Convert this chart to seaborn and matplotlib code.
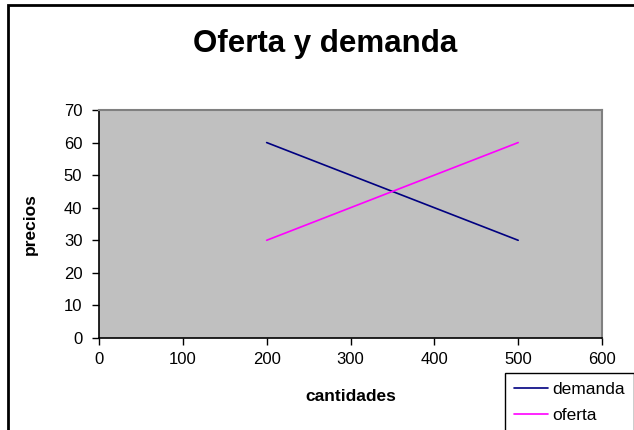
import pandas as pd
import seaborn as sns
import matplotlib.pyplot as plt
from matplotlib.patches import Rectangle

# Datos
cantidades = [200, 300, 400, 500]
demanda = [60, 50, 40, 30]
oferta = [30, 40, 50, 60]

df = pd.DataFrame({
    "cantidades": cantidades * 2,
    "precios": demanda + oferta,
    "serie": ["demanda"] * len(cantidades) + ["oferta"] * len(cantidades),
})

sns.set_style("white", {"axes.facecolor": "#C0C0C0", "text.color": "black"})
plt.rcParams["font.family"] = ["Liberation Sans", "DejaVu Sans"]

fig = plt.figure(figsize=(6.34, 4.30), dpi=100)
ax = fig.add_axes([99 / 634, 92 / 430, 503 / 634, 228 / 430])

sns.lineplot(data=df, x="cantidades", y="precios", hue="serie",
             palette={"demanda": "#000080", "oferta": "#FF00FF"},
             linewidth=1.2, ax=ax, legend=True)

ax.set_xlim(0, 600)
ax.set_ylim(0, 70)
ax.set_xticks(range(0, 601, 100))
ax.set_yticks(range(0, 71, 10))
ax.tick_params(bottom=True, left=True, direction="out", length=5, width=1,
               color="black", labelsize=12, labelcolor="black")
ax.tick_params(axis="y", pad=7)
ax.tick_params(axis="x", pad=5)
ax.grid(False)

for s in ["left", "bottom"]:
    ax.spines[s].set_color("black")
    ax.spines[s].set_linewidth(1.2)
for s in ["top", "right"]:
    ax.spines[s].set_color("#808080")
    ax.spines[s].set_linewidth(1.5)

ax.set_xlabel("cantidades", fontsize=12.5, fontweight="bold", color="black")
ax.set_ylabel("precios", fontsize=12.5, fontweight="bold", color="black")
ax.xaxis.set_label_coords(0.5, -0.225)
ax.yaxis.set_label_coords(-0.122, 0.5)

fig.suptitle("Oferta y demanda", x=325 / 634, y=1 - 44 / 430, va="center",
             fontsize=22.5, fontweight="bold", color="black")

# Leyenda
handles, labels = ax.get_legend_handles_labels()
ax.get_legend().remove()
leg = fig.legend(handles, labels, loc="upper left",
                 bbox_to_anchor=(505 / 634, 1 - 373 / 430),
                 frameon=True, fancybox=False, edgecolor="black",
                 facecolor="white", framealpha=1, fontsize=12.5,
                 handlelength=2.0, handletextpad=0.25, borderpad=0.5,
                 labelspacing=0.65, borderaxespad=0)
leg.get_frame().set_linewidth(1.0)
for t in leg.get_texts():
    t.set_color("black")

# Marco exterior
fig.patches.append(Rectangle((8 / 634, -0.1), 1.2, 1.1 - 5 / 430, fill=False,
                             edgecolor="black", linewidth=2,
                             transform=fig.transFigure, figure=fig))

fig.savefig("out.png", dpi=100)
